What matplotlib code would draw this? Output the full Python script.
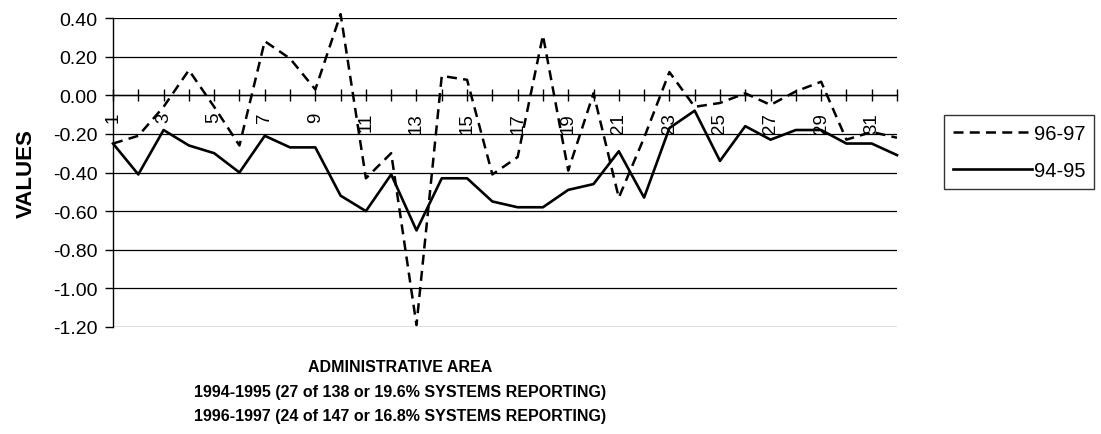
import numpy as np
import matplotlib
matplotlib.use("Agg")
import matplotlib.pyplot as plt

plt.rcParams['font.family'] = ['Liberation Sans', 'DejaVu Sans']

# ======================================
# DATA
# ======================================

areas = list(range(1, 33))

vals_9697 = [-0.25, -0.21, -0.06, 0.13, -0.06, -0.26, 0.28, 0.19, 0.03, 0.42,
             -0.43, -0.30, -1.19, 0.10, 0.08, -0.41, -0.32, 0.31, -0.39, 0.01,
             -0.53, -0.22, 0.12, -0.06, -0.04, 0.01, -0.05, 0.02, 0.07, -0.23,
             -0.19, -0.22]

vals_9495 = [-0.25, -0.41, -0.18, -0.26, -0.30, -0.40, -0.21, -0.27, -0.27, -0.52,
             -0.60, -0.41, -0.70, -0.43, -0.43, -0.55, -0.58, -0.58, -0.49, -0.46,
             -0.29, -0.53, -0.17, -0.08, -0.34, -0.16, -0.23, -0.18, -0.18, -0.25,
             -0.25, -0.31]

y_ticks = [0.40, 0.20, 0.00, -0.20, -0.40, -0.60, -0.80, -1.00, -1.20]

xlabel_lines = [
    "ADMINISTRATIVE AREA",
    "1994-1995 (27 of 138 or 19.6% SYSTEMS REPORTING)",
    "1996-1997 (24 of 147 or 16.8% SYSTEMS REPORTING)",
]

# ======================================
# FIGURE
# ======================================

fig = plt.figure(figsize=(11.01, 4.35), dpi=100)
ax = fig.add_axes([113 / 1101, 1 - 328 / 435, 784 / 1101, 309 / 435])

# move the x axis to zero first (this resets tick settings)
ax.spines['bottom'].set_position(('data', 0))
ax.spines['bottom'].set_linewidth(1)
ax.spines['left'].set_linewidth(1)
ax.spines['top'].set_visible(False)
ax.spines['right'].set_visible(False)

ax.plot(areas, vals_9697, color='black', lw=1.8, linestyle=(0, (4, 2.5)),
        label='96-97', clip_on=False, zorder=3)
ax.plot(areas, vals_9495, color='black', lw=1.9, label='94-95',
        clip_on=False, zorder=3)

ax.set_xlim(1, 32)
ax.set_ylim(-1.2, 0.4)

ax.set_yticks(y_ticks)
ax.set_yticklabels([f"{v:.2f}" for v in y_ticks], fontsize=14)
ax.tick_params(axis='y', direction='out', length=6, width=1, pad=5)
ax.yaxis.grid(True, color='black', lw=0.9)
ax.set_axisbelow(True)

ax.set_xticks(areas)
ax.set_xticklabels([str(a) if a % 2 == 1 else '' for a in areas],
                   rotation=90, fontsize=13.5, va='top')
ax.tick_params(axis='x', direction='inout', length=8, width=1, pad=8)

ax.set_ylabel('VALUES', fontsize=16, fontweight='bold', labelpad=12)

for i, line in enumerate(xlabel_lines):
    fig.text(400 / 1101, 1 - (368 + i * 24.5) / 435, line,
             ha='center', va='center', fontsize=11.5, fontweight='bold')

leg = ax.legend(loc='upper left', bbox_to_anchor=(944 / 1101, 1 - 116 / 435),
                bbox_transform=fig.transFigure, fontsize=14.5, frameon=True,
                fancybox=False, edgecolor='black', handlelength=3.9,
                handletextpad=0.1, labelspacing=0.9, borderpad=0.45,
                borderaxespad=0)
leg.get_frame().set_linewidth(1)

fig.savefig('out.png', dpi=100)
